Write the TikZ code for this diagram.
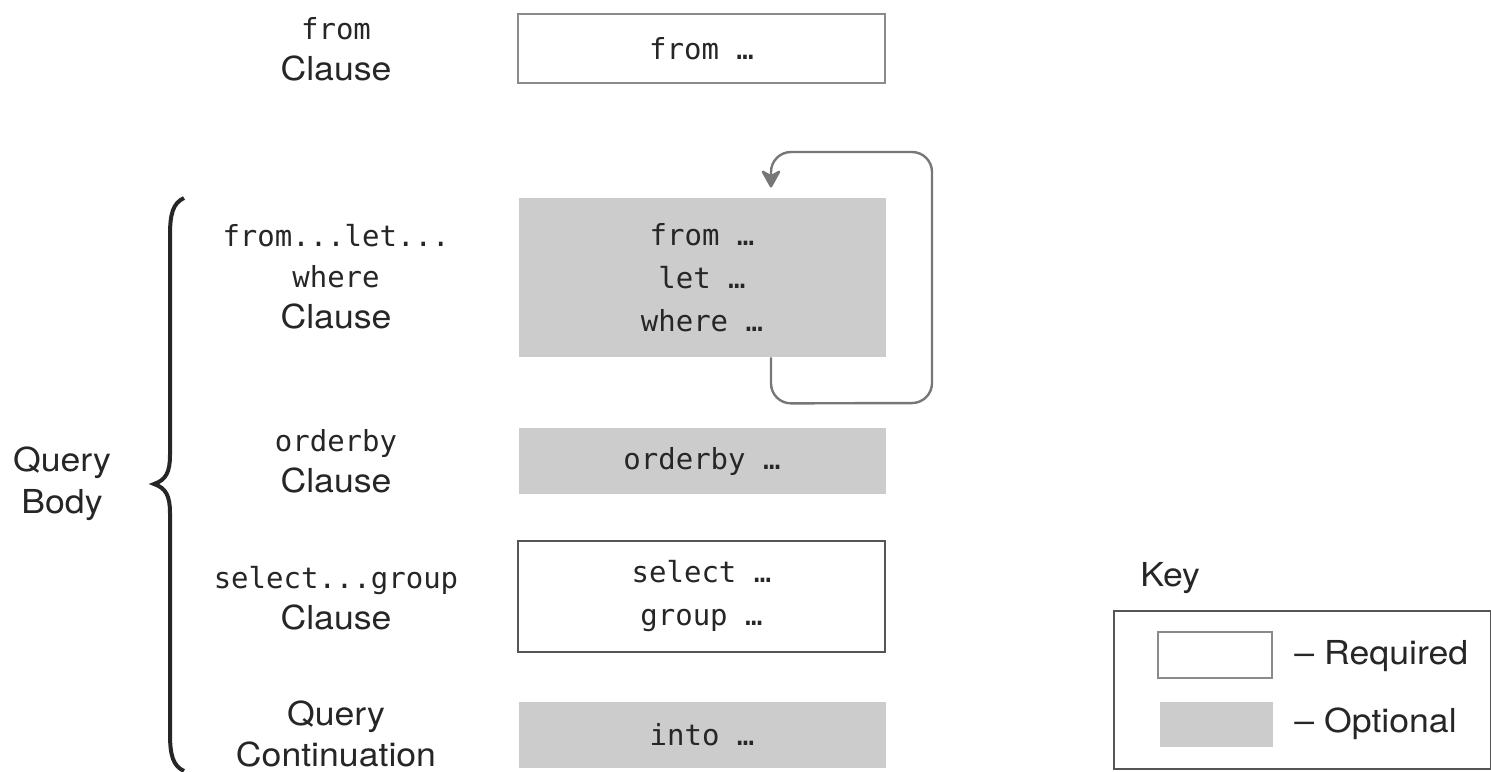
\documentclass[tikz,border=0pt]{standalone}
\usepackage{fontspec}
\setmainfont[FakeStretch=1.08]{TeX Gyre Heros}
\setmonofont{DejaVu Sans Mono}
\usetikzlibrary{arrows.meta}
\definecolor{optgray}{HTML}{CCCCCC}
\definecolor{edgegray}{HTML}{8A8A8A}
\definecolor{darkedge}{HTML}{555555}
\definecolor{arrowgray}{HTML}{777777}
\definecolor{txt}{HTML}{262626}
\newcommand\cd[1]{{\fontsize{14.5}{20.5}\selectfont\ttfamily #1}}
\begin{document}
\begin{tikzpicture}[x=0.5pt,y=-0.5pt,
  every node/.style={text=txt},
  boxbase/.style={minimum width=183.5pt,inner sep=0pt,align=center,
    font=\fontsize{14.5}{21.5}\selectfont\ttfamily},
  reqbox/.style={boxbase,draw=edgegray,line width=1.4pt,fill=white},
  reqdark/.style={boxbase,draw=darkedge,line width=1.2pt,fill=white},
  optbox/.style={boxbase,fill=optgray},
  lbl/.style={align=center,font=\fontsize{16.5}{20.5}\selectfont,inner sep=0pt},
  keytxt/.style={font=\fontsize{16.5}{20}\selectfont,inner sep=0pt,anchor=west},
  loopline/.style={draw=arrowgray,line width=1.2pt,rounded corners=10pt},
  bracepath/.style={draw=txt,line width=2pt}
]
\useasboundingbox (0,0) rectangle (1491,771);

% boxes
\node[reqbox,minimum height=34.5pt] (fromb) at (701.5,48.5) {from …};
\node[optbox,minimum height=79.5pt] (loopb) at (702,277.5) {from …\\let …\\where …};
\node[optbox,minimum height=33pt] (ordb) at (702,461) {orderby …};
\node[reqdark,minimum height=55.5pt] (selb) at (701.5,596.5) {select …\\group …};
\node[optbox,minimum height=33pt] (intob) at (702,735) {into …};

% labels
\node[lbl] (fromL) at (336,49) {\cd{from}\\Clause};
\node[lbl] (loopL) at (336,277) {\cd{from...let...}\\\cd{where}\\Clause};
\node[lbl] (ordL) at (336,461) {\cd{orderby}\\Clause};
\node[lbl] (selL) at (336,598) {\cd{select...group}\\Clause};
\node[lbl] (intoL) at (336,734) {Query\\Continuation};
\node[lbl,align=center,font=\fontsize{16.5}{21}\selectfont] (qb) at (62,484) {Query\\Body};

% brace
\draw[bracepath] (184,198) .. controls (173,203) and (170,214) .. (170,235)
  -- (170,455) .. controls (170,472) and (166,480) .. (154,484)
  .. controls (166,488) and (170,496) .. (170,513)
  -- (170,734) .. controls (170,755) and (173,766) .. (184,771);

% loop arrow
\coordinate (lx) at (771,0);
\coordinate (rx) at (932,0);
\draw[loopline,-{Stealth[length=10pt,width=11pt,inset=3pt,round]},shorten >=5pt]
  (loopb.south -| lx) -- ++(0,46) -- (rx |- 0,403) -- (rx |- 0,152) -- (lx |- 0,152)
  -- (loopb.north -| lx);

% key
\node[keytxt] (keyL) at (1140,578) {Key};
\node[draw=darkedge,line width=1.1pt,minimum width=188.5pt,minimum height=79pt,inner sep=0pt,anchor=north west] (keyb) at (1113,610) {};
\node[draw=edgegray,line width=1.4pt,fill=white,minimum width=57pt,minimum height=23pt,inner sep=0pt] (kreq) at (1215,655) {};
\node[fill=optgray,minimum width=56.5pt,minimum height=22.5pt,inner sep=0pt] (kopt) at (1216.5,724.5) {};
\node[keytxt] (kreqL) at (1294,656) {– Required};
\node[keytxt] (koptL) at (1294,724) {– Optional};
\end{tikzpicture}
\end{document}
